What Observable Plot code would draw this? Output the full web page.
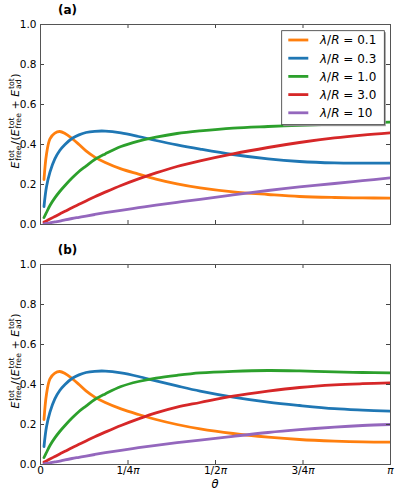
<!DOCTYPE html>
<html><head><meta charset="utf-8">
<script src="https://cdn.jsdelivr.net/npm/d3@7"></script>
<script src="https://cdn.jsdelivr.net/npm/@observablehq/plot@0.6"></script>
<style>
body{margin:0;background:#fff;width:399px;height:495px;overflow:hidden;font-family:"DejaVu Sans";}
#wrap{position:relative;width:399px;height:495px;}
#wrap > svg{position:absolute;left:0;}
</style></head><body><div id="wrap"></div>
<script>
// θ sample positions (in units of π)
const theta = [0.01, 0.017, 0.027, 0.041, 0.055, 0.07, 0.09, 0.11, 0.13, 0.155, 0.185, 0.23, 0.28, 0.33, 0.39, 0.456, 0.55, 0.65, 0.74, 0.84, 0.92, 1.0];

const seriesLabels = ["0.1", "0.3", "1.0", "3.0", "10"];
const seriesColors = ["#ff7f0e", "#1f77b4", "#2ca02c", "#d62728", "#9467bd"];

// panel (a)
const orangeA = [0.225, 0.35, 0.428, 0.457, 0.465, 0.455, 0.43, 0.40, 0.368, 0.337, 0.31, 0.278, 0.252, 0.227, 0.203, 0.183, 0.163, 0.15, 0.14, 0.135, 0.133, 0.132];
const blueA   = [0.09, 0.187, 0.262, 0.328, 0.37, 0.40, 0.43, 0.448, 0.46, 0.466, 0.467, 0.458, 0.44, 0.42, 0.398, 0.377, 0.35, 0.328, 0.315, 0.308, 0.307, 0.307];
const greenA  = [0.035, 0.06, 0.095, 0.133, 0.165, 0.195, 0.232, 0.265, 0.292, 0.325, 0.353, 0.39, 0.417, 0.437, 0.455, 0.468, 0.482, 0.49, 0.496, 0.502, 0.507, 0.512];
const redA    = [0.012, 0.018, 0.027, 0.04, 0.053, 0.066, 0.084, 0.101, 0.118, 0.139, 0.162, 0.195, 0.228, 0.258, 0.29, 0.318, 0.353, 0.385, 0.41, 0.433, 0.447, 0.458];
const purpleA = [0.003, 0.005, 0.008, 0.013, 0.017, 0.023, 0.03, 0.036, 0.042, 0.05, 0.059, 0.071, 0.084, 0.097, 0.111, 0.126, 0.148, 0.17, 0.188, 0.205, 0.219, 0.233];

// panel (b)
const orangeB = [0.225, 0.35, 0.428, 0.457, 0.465, 0.455, 0.43, 0.40, 0.368, 0.337, 0.31, 0.278, 0.25, 0.225, 0.2, 0.178, 0.155, 0.137, 0.125, 0.117, 0.113, 0.112];
const blueB   = [0.09, 0.187, 0.262, 0.328, 0.37, 0.40, 0.43, 0.448, 0.46, 0.466, 0.467, 0.458, 0.44, 0.418, 0.393, 0.367, 0.337, 0.312, 0.295, 0.279, 0.272, 0.267];
const greenB  = [0.035, 0.06, 0.095, 0.133, 0.165, 0.195, 0.232, 0.265, 0.292, 0.325, 0.353, 0.39, 0.415, 0.432, 0.446, 0.458, 0.466, 0.47, 0.468, 0.463, 0.46, 0.458];
const redB    = [0.012, 0.018, 0.027, 0.04, 0.053, 0.066, 0.084, 0.101, 0.118, 0.139, 0.162, 0.195, 0.228, 0.258, 0.287, 0.31, 0.342, 0.367, 0.385, 0.398, 0.404, 0.408];
const purpleB = [0.003, 0.005, 0.008, 0.013, 0.017, 0.023, 0.03, 0.036, 0.042, 0.05, 0.059, 0.071, 0.084, 0.096, 0.109, 0.122, 0.141, 0.16, 0.174, 0.187, 0.195, 0.2];

const yTicks = [0, 0.2, 0.4, 0.6, 0.8, 1.0];
const xTicks = [0, 0.25, 0.5, 0.75, 1];
const xTickLabels = ["0", "1/4π", "1/2π", "3/4π", "π"];

function rows(list) {
  const out = [];
  list.forEach((vals, i) => vals.forEach((v, j) => out.push({x: theta[j], y: v, s: seriesLabels[i]})));
  return out;
}
const dataA = rows([orangeA, blueA, greenA, redA, purpleA]);
const dataB = rows([orangeB, blueB, greenB, redB, purpleB]);

const W = 399, mL = 40, mR = 9, mT = 24;
function panel(data, height, marginBottom, showX) {
  const innerW = W - mL - mR, innerH = height - mT - marginBottom, tk = 4;
  return Plot.plot({
    width: W, height, marginLeft: mL, marginRight: mR, marginTop: mT, marginBottom,
    x: {domain: [0, 1], axis: null},
    y: {domain: [0, 1], axis: null},
    color: {domain: seriesLabels, range: seriesColors},
    style: {fontFamily: "DejaVu Sans", fontSize: "10.5px", color: "#000", background: "transparent", overflow: "visible"},
    marks: [
      Plot.line(data, {x: "x", y: "y", z: "s", stroke: "s", strokeWidth: 2.8, curve: "catmull-rom", clip: true}),
      Plot.tickY(yTicks, {y: d => d, insetRight: innerW - tk, stroke: "#444"}),
      Plot.tickY(yTicks, {y: d => d, insetLeft: innerW - tk, stroke: "#444"}),
      Plot.tickX(xTicks, {x: d => d, insetBottom: innerH - tk, stroke: "#444"}),
      Plot.tickX(xTicks, {x: d => d, insetTop: innerH - tk, stroke: "#444"}),
      Plot.axisY(yTicks, {tickSize: 0, tickPadding: 4, tickFormat: d => d.toFixed(1), label: null}),
      showX ? Plot.axisX(xTicks, {tickSize: 0, tickPadding: 2, tickFormat: d => xTickLabels[xTicks.indexOf(d)], label: null}) : null,
      Plot.frame({stroke: "#555"})
    ]
  });
}

const wrap = document.getElementById("wrap");
const svgA = panel(dataA, 240, 16, false);
const svgB = panel(dataB, 255, 31, true);
svgA.style.top = "0px";
svgB.style.top = "240px";
wrap.appendChild(svgA);
wrap.appendChild(svgB);

// italic π in x tick labels
d3.select(svgB).selectAll('g[aria-label="x-axis tick label"] text').each(function() {
  const s = this.textContent;
  if (s.includes("π")) {
    const pre = s.replace("π", "");
    const sel = d3.select(this); sel.text(null);
    if (pre) sel.append("tspan").text(pre);
    sel.append("tspan").attr("font-style", "italic").text("π");
  }
});

function measure(svg, str, size) {
  const t = d3.select(svg).append("text").attr("font-family", "DejaVu Sans").attr("font-size", size).text(str);
  const w = t.node().getComputedTextLength(); t.remove(); return w;
}
function yLabel(svg, x, y) {
  const big = 11, small = 7.8, up = -5, sub = 2, down = sub - up;
  const wTot = measure(svg, "tot", small), wAd = measure(svg, "ad", small);
  const g = d3.select(svg).append("g").attr("transform", `translate(${x},${y}) rotate(-90)`);
  const t = g.append("text")
    .attr("text-anchor", "start").attr("font-family", "DejaVu Sans").attr("font-size", big).attr("fill", "#000");
  const add = (s, o = {}) => { const ts = t.append("tspan").text(s); for (const k in o) ts.attr(k, o[k]); };
  add("E", {"font-style": "italic"});
  add("tot", {"font-size": small, dy: up, dx: 0.8});
  add("free", {"font-size": small, dx: -wTot, dy: down});
  add("/", {dy: -sub, dx: 0.8});
  add("(", {dx: 0.5});
  add("E", {"font-style": "italic"});
  add("tot", {"font-size": small, dy: up, dx: 0.8});
  add("free", {"font-size": small, dx: -wTot, dy: down});
  add(" + ", {dy: -sub});
  add("E", {"font-style": "italic"});
  add("ad", {"font-size": small, dy: sub, dx: 0.8});
  add("tot", {"font-size": small, dx: -wAd, dy: -down});
  add(")", {dy: -up, dx: 0.5});
  const bb = t.node().getBBox();
  t.attr("x", -bb.x - bb.width / 2);
}
yLabel(svgA, 19.3, 121);
yLabel(svgB, 19.3, 121);

function title(svg, s) {
  d3.select(svg).append("text").attr("x", 67.5).attr("y", 14).attr("text-anchor", "middle")
    .attr("font-family", "DejaVu Sans").attr("font-weight", "bold").attr("font-size", 12).text(s);
}
title(svgA, "(a)");
title(svgB, "(b)");

// θ axis label
d3.select(svgB).append("text").attr("x", 215).attr("y", 248).attr("text-anchor", "middle")
  .attr("font-family", "DejaVu Sans").attr("font-style", "italic").attr("font-size", 11.5).text("θ");

// legend in panel (a)
(function legend(svg) {
  const g = d3.select(svg).append("g");
  const x0 = 281.7, y0 = 30.7, w = 102.6, h = 94;
  g.append("rect").attr("x", x0 + 1.5).attr("y", y0 + 1.5).attr("width", w).attr("height", h).attr("fill", "#999");
  g.append("rect").attr("x", x0).attr("y", y0).attr("width", w).attr("height", h).attr("fill", "#fff").attr("stroke", "#333").attr("stroke-width", 0.8);
  seriesLabels.forEach((lab, i) => {
    const cy = 40 + i * 18.2;
    g.append("line").attr("x1", 288.3).attr("x2", 308.3).attr("y1", cy).attr("y2", cy)
      .attr("stroke", seriesColors[i]).attr("stroke-width", 2.8);
    const t = g.append("text").attr("x", 320).attr("y", cy + 4.3).attr("text-anchor", "start")
      .attr("font-family", "DejaVu Sans").attr("font-size", 12);
    t.append("tspan").attr("font-style", "italic").text("λ");
    t.append("tspan").text("/");
    t.append("tspan").attr("font-style", "italic").text("R");
    t.append("tspan").text(" = " + lab);
  });
})(svgA);
</script></body></html>
